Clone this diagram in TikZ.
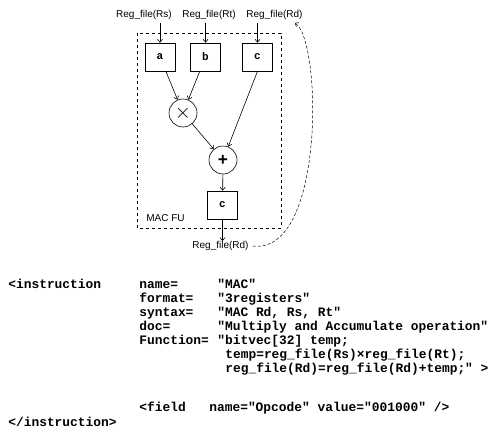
\documentclass[tikz,border=0pt]{standalone}
\usepackage{fontspec}
\setmainfont{Liberation Sans}
\newfontfamily\codefont{Liberation Mono}
\usetikzlibrary{arrows.meta,positioning}

\begin{document}
\begin{tikzpicture}[x=1pt,y=-1pt,>={Straight Barb[length=3pt,width=5pt]},line width=0.6pt,
  reg/.style={draw,fill=white,minimum width=30pt,minimum height=28pt,inner sep=0pt,font=\codefont\bfseries\fontsize{11}{13}\selectfont},
  op/.style={draw,circle,minimum size=28pt,inner sep=0pt},
  lbl/.style={inner sep=0pt,font=\fontsize{10}{12}\selectfont},
  code/.style={anchor=base west,inner sep=0pt,font=\codefont\bfseries\fontsize{12.9}{14}\selectfont}]
\useasboundingbox (0,0) rectangle (489,444);
% MAC functional unit
\draw[dashed] (137,33) rectangle (281,228);
\node[lbl] (rs) at (144,15) {Reg\_file(Rs)};
\node[lbl] (rt) at (209,15) {Reg\_file(Rt)};
\node[lbl] (rd) at (274.5,15) {Reg\_file(Rd)};
\node[reg] (a) at (160,57) {a};
\node[reg] (b) at (205.5,57) {b};
\node[reg] (c) at (257.5,57) {c};
\node[op] (mul) at (183,113) {\fontsize{22}{22}\selectfont$\times$};
\node[op] (add) at (223,160) {\bfseries\LARGE +};
\node[reg] (acc) at (222.5,205) {c};
\node[lbl,anchor=west] (fu) at (146,218) {MAC FU};
\node[lbl] (out) at (220.5,246) {Reg\_file(Rd)};
\draw[->] ([yshift=-3pt]rs.south -| a) -- (a);
\draw[->] ([yshift=-3pt]rt.south -| b) -- (b);
\draw[->] ([yshift=-3pt]rd.south -| c) -- (c);
\draw[->] (a) -- (mul); \draw[->] (b) -- (mul);
\draw[->] (mul) -- (add); \draw[->] (c.south) -- (add);
\draw[->] (add) -- (acc);
\draw[->] (acc) -- (out.north -| acc);
\draw[->,densely dashed,line width=0.5pt] ([xshift=4pt]out.east) .. controls (325,255) and (322,40) .. ([shift={(-8pt,-3pt)}]rd.south east);
% instruction description
\node[code] (i1) at (8,288) {<instruction};
\node[code] (n1) at (139,288) {name=};
\node[code] (v1) at (217,288) {"MAC"};
\node[code] (n2) at (139,302) {format=};
\node[code] (v2) at (217,302) {"3registers"};
\node[code] (n3) at (139,316) {syntax=};
\node[code] (v3) at (217,316) {"MAC Rd, Rs, Rt"};
\node[code] (n4) at (139,330) {doc=};
\node[code] (v4) at (217,330) {"Multiply and Accumulate operation"};
\node[code] (n5) at (139,344) {Function=};
\node[code] (v5) at (217,344) {"bitvec[32] temp;};
\node[code] (v6) at (225,358) {temp=reg\_file(Rs)×reg\_file(Rt);};
\node[code] (v7) at (225,372) {reg\_file(Rd)=reg\_file(Rd)+temp;" >};
\node[code] (f1) at (139,411) {<field};
\node[code] (f2) at (209,411) {name="Opcode" value="001000" />};
\node[code] (i2) at (8,426) {</instruction>};
\end{tikzpicture}
\end{document}
